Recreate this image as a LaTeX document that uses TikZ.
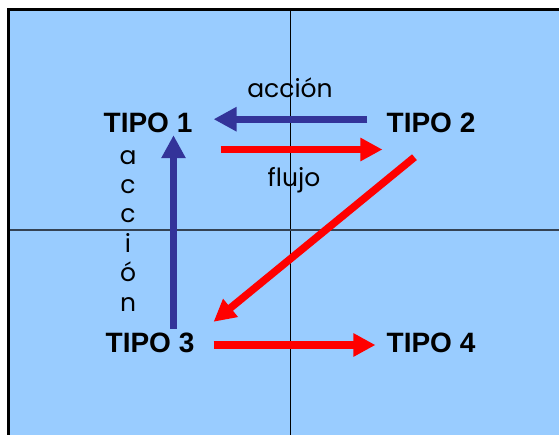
\documentclass[tikz,border=0pt]{standalone}
\usepackage{fontspec}
\setmainfont{Liberation Sans}
\newfontfamily\geofont{Poppins}
\usetikzlibrary{arrows.meta}
\definecolor{skyfill}{RGB}{153,204,255}
\definecolor{actblue}{RGB}{51,51,153}
\definecolor{flowred}{RGB}{255,0,0}
\definecolor{axisgrey}{RGB}{52,66,84}

\begin{document}
\begin{tikzpicture}[
    x=1pt, y=-1pt,
    tipo/.style={font=\fontsize{28}{30}\selectfont\bfseries, inner sep=0pt,
                 text height=20pt, text depth=0pt},
    lbl/.style={font=\geofont\fontsize{25}{27}\selectfont, inner sep=0pt},
    act/.style={-{Triangle[length=23pt,width=23pt]}, color=actblue, line width=7pt},
    flow/.style={-{Triangle[length=22pt,width=22pt]}, color=flowred, line width=7.5pt}
]
\useasboundingbox (0,0) rectangle (559,434);
% panel and axes
\fill[skyfill] (9,10) rectangle (570,445);
\draw[line width=2.5pt] (8.5,445) -- (8.5,9.5) -- (570,9.5);
\draw[line width=1.3pt] (290.5,10) -- (290.5,445);
\draw[line width=2pt, color=axisgrey] (10,230) -- (570,230);
% types
\node[tipo] (t1) at (148,122.5) {TIPO 1};
\node[tipo] (t2) at (431,122.5) {TIPO 2};
\node[tipo] (t3) at (150,342.5) {TIPO 3};
\node[tipo] (t4) at (431,342.5) {TIPO 4};
% labels
\node[lbl] (accion) at (290,88) {acción};
\node[lbl] (flujo) at (294,180) {flujo};
\foreach \ch [count=\i] in {a,c,c,i,ó,n}
  \node[lbl, anchor=base] (v\i) at (128,164+29.4*\i-29.4) {\ch};
% arrows
\draw[act] ([shift={(-19pt,3.3pt)}]t2.west) -- ([shift={(21pt,3.3pt)}]t1.east);
\draw[flow] ([shift={(28pt,-27pt)}]t1.east) -- ([shift={(-4pt,-27pt)}]t2.west);
\draw[flow] ([shift={(28pt,-24.5pt)}]t2.south west) -- ([shift={(19pt,10.5pt)}]t3.north east);
\draw[act] ([shift={(23.5pt,3.5pt)}]t3.north) -- ([shift={(25.5pt,-2.5pt)}]t1.south);
\draw[flow] ([shift={(19pt,-2.5pt)}]t3.east) -- ([shift={(-11pt,-2.5pt)}]t4.west);
\end{tikzpicture}
\end{document}
